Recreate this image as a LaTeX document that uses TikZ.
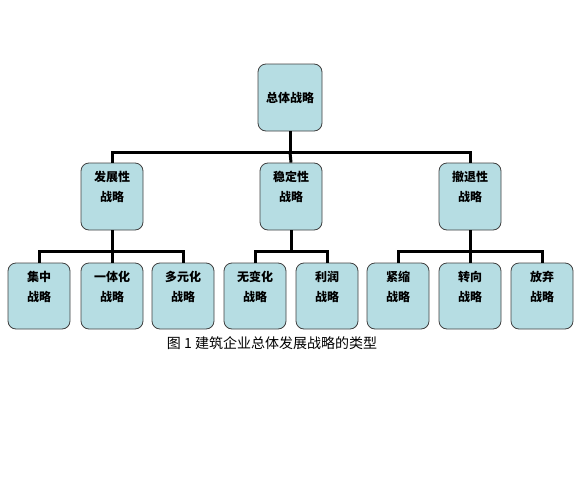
\documentclass[tikz,border=0pt]{standalone}
\usepackage{fontspec}
\newfontfamily\cjk{Noto Sans CJK SC}
\definecolor{boxblue}{RGB}{182,221,227}
\begin{document}
\begin{tikzpicture}[x=1pt, y=-1pt,
        box/.style={draw=black!75, fill=boxblue, rounded corners=8pt, line width=0.8pt,
            minimum width=62pt, minimum height=66pt, inner sep=0pt, align=center,
            font=\cjk\bfseries\fontsize{12}{20}\selectfont},
        link/.style={line width=3pt}]
            \useasboundingbox (0,0) rectangle (588,479);
            \node[box, minimum width=64pt, minimum height=67pt] (root) at (290,97.5) {总体战略};
            \node[box, minimum height=67pt] (dev) at (112,196.5) {发展性\\战略\\\mbox{}};
            \node[box, minimum height=67pt] (stab) at (291,196.5) {稳定性\\战略\\\mbox{}};
            \node[box, minimum height=67pt] (retr) at (470,196.5) {撤退性\\战略\\\mbox{}};
            \node[box] (conc) at (39,296) {集中\\战略\\\mbox{}};
            \node[box] (integ) at (112,296) {一体化\\战略\\\mbox{}};
            \node[box] (divers) at (183,296) {多元化\\战略\\\mbox{}};
            \node[box] (nochg) at (255,296) {无变化\\战略\\\mbox{}};
            \node[box] (profit) at (327,296) {利润\\战略\\\mbox{}};
            \node[box] (shrink) at (398,296) {紧缩\\战略\\\mbox{}};
            \node[box] (turn) at (470,296) {转向\\战略\\\mbox{}};
            \node[box] (quit) at (542,296) {放弃\\战略\\\mbox{}};
            \node[font=\cjk\fontsize{14}{16}\selectfont] (caption) at (272,343) {图 1 建筑企业总体发展战略的类型};
            \coordinate (bus0) at (290,152);
            \coordinate (bus1) at (112,251);
            \coordinate (bus2) at (291,251);
            \coordinate (bus3) at (470,251);
            \draw[link] (root) -- (bus0);
            \draw[link] (bus0) -| (dev.north);
            \draw[link] (bus0) -| (retr.north);
            \draw[link] (bus0) -- (stab.north);
            \draw[link] (dev) -- (bus1);
            \draw[link] (bus1) -| (conc.north);
            \draw[link] (bus1) -- (integ.north);
            \draw[link] (bus1) -| (divers.north);
            \draw[link] (stab) -- (bus2);
            \draw[link] (bus2) -| (nochg.north);
            \draw[link] (bus2) -| (profit.north);
            \draw[link] (retr) -- (bus3);
            \draw[link] (bus3) -| (shrink.north);
            \draw[link] (bus3) -- (turn.north);
            \draw[link] (bus3) -| (quit.north);
\end{tikzpicture}
\end{document}
